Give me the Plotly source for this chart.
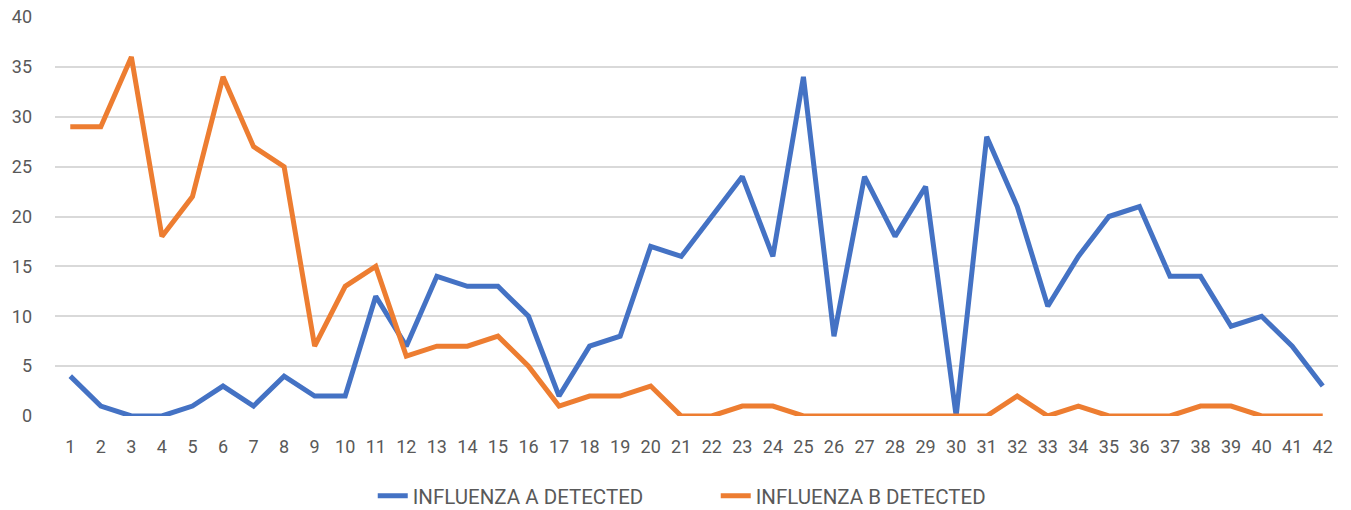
import plotly.graph_objects as go

weeks = list(range(1, 43))
flu_a = [4, 1, 0, 0, 1, 3, 1, 4, 2, 2, 12, 7, 14, 13, 13, 10, 2, 7, 8, 17,
         16, 20, 24, 16, 34, 8, 24, 18, 23, 0, 28, 21, 11, 16, 20, 21, 14, 14, 9, 10,
         7, 3]
flu_b = [29, 29, 36, 18, 22, 34, 27, 25, 7, 13, 15, 6, 7, 7, 8, 5, 1, 2, 2, 3,
         0, 0, 1, 1, 0, 0, 0, 0, 0, 0, 0, 2, 0, 1, 0, 0, 0, 1, 1, 0,
         0, 0]
y_ticks = [0, 5, 10, 15, 20, 25, 30, 35, 40]

fig = go.Figure()
fig.add_trace(go.Scatter(x=weeks, y=flu_a, mode="lines", name="INFLUENZA A DETECTED",
                         line=dict(color="#4472C4", width=5)))
fig.add_trace(go.Scatter(x=weeks, y=flu_b, mode="lines", name="INFLUENZA B DETECTED",
                         line=dict(color="#ED7D31", width=5)))

font_family = "Roboto, sans-serif"
fig.update_layout(
    width=1351, height=510,
    margin=dict(l=55, r=13, t=17, b=94, autoexpand=False),
    paper_bgcolor="white", plot_bgcolor="white",
    font=dict(family=font_family, size=18, color="#595959"),
    showlegend=True,
    legend=dict(orientation="h", x=0.515, xanchor="center",
                yref="container", y=14 / 510, yanchor="middle",
                font=dict(size=20.5, color="#595959"), entrywidth=298,
                tracegroupgap=0, bgcolor="rgba(0,0,0,0)"),
    xaxis=dict(range=[0.5, 42.5], tickmode="array", tickvals=weeks,
               ticktext=[str(w) for w in weeks], showgrid=False, zeroline=False,
               showline=False, ticks="", ticklabelstandoff=18,
               tickfont=dict(size=18, color="#595959")),
    yaxis=dict(range=[0, 40], tickmode="array", tickvals=y_ticks,
               showgrid=True, gridcolor="#D9D9D9", gridwidth=2, zeroline=False,
               showline=False, ticks="", ticklabelstandoff=22,
               tickfont=dict(size=18, color="#595959")),
)
fig.write_html("out.html", config={"displayModeBar": False},
               post_script="document.body.style.margin='0';")
